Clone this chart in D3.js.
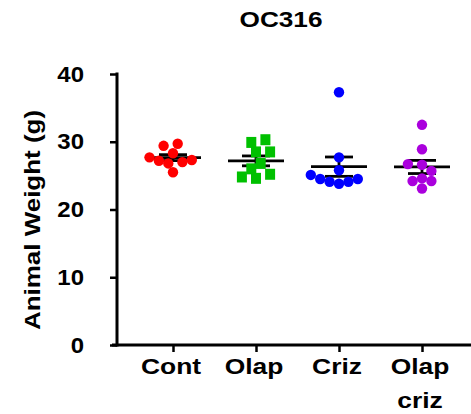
<!DOCTYPE html>
<html>
<head>
<meta charset="utf-8">
<script src="https://cdn.jsdelivr.net/npm/d3@7"></script>
<style>
  body { margin: 0; background: #fff; }
  text { font-family: Arial, "Liberation Sans", sans-serif; font-weight: bold; fill: #000; }
</style>
</head>
<body>
<script>
    // chart data
    var groups = ['Cont', 'Olap', 'Criz', 'Olap criz'];
    var cont = [25.5, 26.8, 27.0, 27.2, 27.3, 27.7, 28.3, 29.4, 29.7];
    var olap = [24.6, 24.8, 25.2, 26.0, 26.8, 28.5, 28.5, 29.9, 30.3];
    var criz = [23.8, 24.1, 24.1, 24.5, 24.5, 25.1, 25.8, 27.7, 37.3];
    var olapCriz = [23.1, 24.2, 24.2, 24.6, 25.7, 26.6, 26.7, 28.9, 32.5];
    var yTicks = [0, 10, 20, 30, 40];
    var colors = ['#ff0000', '#00c000', '#0000ff', '#aa00dd'];
    var shapes = ['circle', 'square', 'circle', 'circle'];

    var width = 471;
    var height = 414;
    var padLeft = 117;
    var padBottom = 345;
    var padTop = 74;

    var series = [cont, olap, criz, olapCriz];

    var svg = d3.select('body')
        .append('svg')
        .attr('width', width)
        .attr('height', height);

    // the original text is a bit wider than Arial, stretch it
    var stretch = (sel, k) => {
        sel.each(function () {
            var w = this.getComputedTextLength();
            d3.select(this)
                .attr('textLength', w * k)
                .attr('lengthAdjust', 'spacingAndGlyphs');
        });
    };

    var xScale = d3.scalePoint()
        .domain(groups)
        .range([173, 422]);

    var yScale = d3.scaleLinear()
        .domain([0, 40])
        .range([padBottom, padTop]);

    // title
    svg.append('text')
        .attr('x', 281)
        .attr('y', 27)
        .attr('text-anchor', 'middle')
        .style('font-size', '22px')
        .text('OC316')
        .call(stretch, 1.19);

    // y axis
    var yAxis = d3.axisLeft(yScale)
        .tickValues(yTicks)
        .tickSize(7)
        .tickPadding(26);

    var yG = svg.append('g')
        .attr('transform', 'translate(' + padLeft + ',0)')
        .call(yAxis);
    yG.select('.domain').attr('stroke-width', 3).attr('d', 'M0,' + (padBottom + 1.5) + 'V' + (padTop - 1.5));
    yG.selectAll('.tick line').attr('stroke-width', 2.5);
    yG.selectAll('.tick text')
        .attr('font-family', null)
        .attr('font-size', null)
        .style('font-size', '22px')
        .call(stretch, 1.09);

    // x axis
    var xAxis = d3.axisBottom(xScale)
        .tickSize(7)
        .tickFormat('');

    var xG = svg.append('g')
        .attr('transform', 'translate(0,' + padBottom + ')')
        .call(xAxis);
    xG.select('.domain').remove();
    xG.selectAll('.tick line').attr('stroke-width', 2.5);
    xG.append('line')
        .attr('x1', padLeft - 5)
        .attr('x2', width)
        .attr('stroke', '#000')
        .attr('stroke-width', 3);

    // two line category labels
    groups.forEach((g) => {
        var lab = svg.append('text')
            .attr('text-anchor', 'middle')
            .attr('y', 374)
            .style('font-size', '22px');
        g.split(' ').forEach((w, i) => {
            lab.append('tspan')
                .attr('x', xScale(g) - 2)
                .attr('dy', i === 0 ? 0 : 34)
                .text(w)
                .call(stretch, 1.2);
        });
    });

    // y axis title
    svg.append('text')
        .attr('transform', 'translate(40,220) rotate(-90)')
        .attr('text-anchor', 'middle')
        .style('font-size', '22px')
        .text('Animal Weight (g)')
        .call(stretch, 1.18);

    // simple beeswarm so points sit side by side like the original
    var swarm = (vals, step, diam) => {
        var placed = [];
        vals.slice().sort((a, b) => a - b).forEach((v, idx) => {
            var py = yScale(v);
            for (var k = 0; k < 30; k++) {
                var sgn = idx % 2 ? -1 : 1;
                var cands = k === 0 ? [0] : [sgn * k * step, -sgn * k * step];
                var dx = cands.find((c) => placed.every((p) => Math.hypot(p.dx - c, p.y - py) >= diam));
                if (dx !== undefined) {
                    placed.push({ v: v, y: py, dx: dx });
                    break;
                }
            }
        });
        return placed;
    };

    series.forEach((vals, i) => {
        var cx = xScale(groups[i]);
        var mean = d3.mean(vals);
        var sem = d3.deviation(vals) / Math.sqrt(vals.length);
        var g = svg.append('g');

        // mean and sem bars
        g.append('line')
            .attr('x1', cx - 28).attr('x2', cx + 28)
            .attr('y1', yScale(mean)).attr('y2', yScale(mean));
        g.append('line')
            .attr('x1', cx - 14).attr('x2', cx + 14)
            .attr('y1', yScale(mean + sem)).attr('y2', yScale(mean + sem));
        g.append('line')
            .attr('x1', cx - 14).attr('x2', cx + 14)
            .attr('y1', yScale(mean - sem)).attr('y2', yScale(mean - sem));
        g.append('line')
            .attr('x1', cx).attr('x2', cx)
            .attr('y1', yScale(mean + sem)).attr('y2', yScale(mean - sem));
        g.selectAll('line').attr('stroke', '#000').attr('stroke-width', 2.8);

        var pts = swarm(vals, 4.7, shapes[i] === 'square' ? 10.5 : 9.6);
        if (shapes[i] === 'square') {
            svg.selectAll('.sq' + i)
                .data(pts)
                .enter()
                .append('rect')
                .attr('class', 'sq' + i)
                .attr('x', (d) => cx + d.dx - 5)
                .attr('y', (d) => d.y - 5.5)
                .attr('width', 10)
                .attr('height', 11)
                .attr('fill', colors[i]);
        } else {
            svg.selectAll('.dot' + i)
                .data(pts)
                .enter()
                .append('circle')
                .attr('class', 'dot' + i)
                .attr('cx', (d) => cx + d.dx)
                .attr('cy', (d) => d.y)
                .attr('r', 5.2)
                .attr('fill', colors[i]);
        }
    });
</script>
</body>
</html>
